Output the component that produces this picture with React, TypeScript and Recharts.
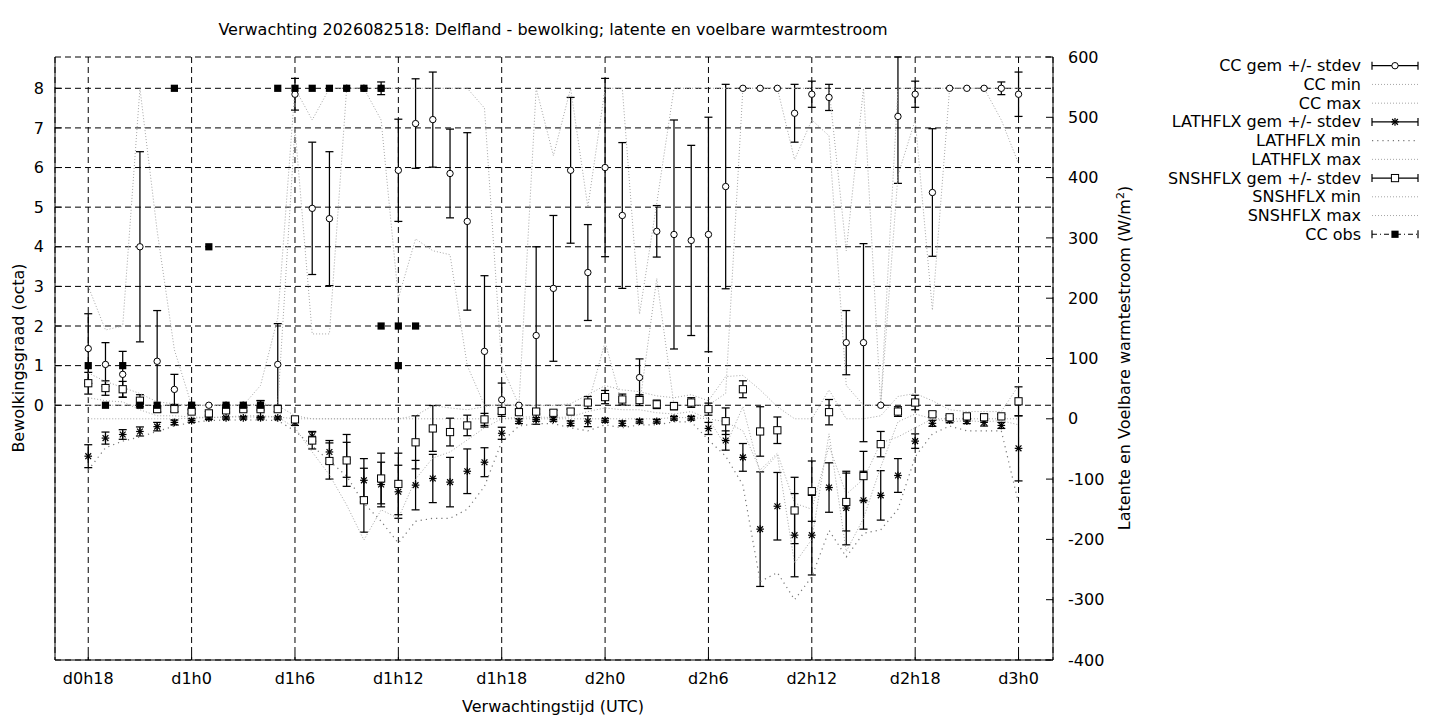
import { CartesianGrid, ComposedChart, ErrorBar, Line, Scatter, XAxis, YAxis } from "recharts";

const FONT = "DejaVu Sans, Verdana, sans-serif";
const DOT = "#a6a6a6";

// forecast hours since d0h0
const hours = [
  18, 19, 20, 21, 22, 23,
  24, 25, 26, 27, 28, 29, 30, 31, 32, 33, 34, 35,
  36, 37, 38, 39, 40, 41, 42, 43, 44, 45, 46, 47,
  48, 49, 50, 51, 52, 53, 54, 55, 56, 57, 58, 59,
  60, 61, 62, 63, 64, 65, 66, 67, 68, 69, 70, 71,
  72,
];

// bewolking (octa)
const ccMean = [
  1.43, 1.03, 0.78, 4.0, 1.11, 0.4,
  0, 0, 0, 0, 0, 1.03, 7.85, 4.97, 4.71, 8, 8, 8,
  5.93, 7.11, 7.21, 5.85, 4.64, 1.36, 0.14, 0, 1.76, 2.95, 5.93, 3.35,
  6.0, 4.79, 0.7, 4.39, 4.31, 4.16, 4.31, 5.52, 8, 8, 8, 7.37,
  7.85, 7.77, 1.58, 1.58, 0, 7.29, 7.85, 5.37, 8, 8, 8, 8,
  7.85,
];
const ccSd = [
  0.88, 0.55, 0.58, 2.4, 1.28, 0.38,
  0, 0, 0, 0, 0.12, 1.03, 0.4, 1.67, 1.69, 0, 0, 0.16,
  1.29, 1.13, 1.2, 1.12, 2.24, 1.91, 0.42, 0, 2.24, 1.84, 1.84, 1.21,
  2.25, 1.84, 0.47, 0.65, 2.89, 2.4, 2.96, 2.58, 0, 0, 0, 0.73,
  0.33, 0.33, 0.81, 2.5, 0, 1.69, 0.33, 1.61, 0, 0, 0, 0.16,
  0.56,
];
const ccMin = [
  0, 0, 0, 0, 0, 0,
  0, 0, 0, 0, 0, 0, 7.0, 1.8, 1.8, 8, 8, 7.2,
  2.7, 4.2, 3.9, 3.8, 1.0, 0, 0, 0, 0, 0, 0, 0,
  1.6, 0, 0, 3.2, 0, 0, 0, 0.3, 8, 8, 8, 6.2,
  7.2, 6.8, 0.5, 0, 0, 5.8, 7.2, 2.4, 8, 8, 8, 7.2,
  6.1,
];
const ccMax = [
  3.0, 1.9, 2.0, 8, 4.4, 1.4,
  0, 0, 0, 0, 0.5, 2.2, 8, 7.2, 8, 8, 8, 8,
  8, 8, 8, 8, 8, 7.5, 1.0, 0, 8, 6.3, 8, 5.0,
  8, 8, 2.3, 5.1, 8, 8, 8, 8, 8, 8, 8, 8,
  8, 8, 3.9, 8, 0, 8, 8, 8, 8, 8, 8, 8,
  8,
];

// latente warmtestroom (W/m2)
const lhMean = [
  -62, -32, -26, -21, -13, -6,
  -3, 1, 1.5, 1.5, 1.5, 1.5, -6, -29, -55, -68, -102, -109,
  -121, -110, -99, -105, -87, -72, -24, -4, -1, -1, -7.5, -4,
  -2.5, -7.5, -4, -4, 1, 1, -16, -36, -64, -183, -145, -193,
  -193, -114, -148, -135, -127, -94, -37, -7.5, -2.5, -4, -6, -11,
  -49,
];
const lhSd = [
  19, 10, 8, 7.5, 7, 4,
  3, 2, 2, 2, 2, 2, 5, 8, 19, 29, 36, 37,
  44, 41, 40, 41, 37, 24, 10, 4, 3, 3, 4, 9,
  3, 4, 3, 3, 3, 3, 10, 16, 23, 95, 56, 69,
  66, 41, 61, 48, 41, 28, 12, 5, 4, 4, 6, 5,
  54,
];
const lhMin = [
  -85, -48, -37, -30, -21, -12,
  -6, -3, -2, -2, -2, -3, -20, -45, -70, -95, -140, -170,
  -206, -170, -165, -165, -150, -112, -38, -12, -8, -8, -15, -20,
  -10, -15, -10, -10, -5, -5, -35, -62, -110, -270, -255, -300,
  -262, -185, -229, -190, -184, -150, -63, -25, -12, -20, -20, -20,
  -140,
];
const lhMax = [
  0, 0, 0, 0, 0, 0,
  1, 2, 3, 3, 3, 3, 0, 0, 0, 0, 0, 0,
  0, 0, 0, 0, 0, 0, 0, 0, 0, 0, 0, 0,
  0, 0, 0, 0, 2, 2, 0, -5, -20, -85, -57, -140,
  -150, -45, -125, -100, -40, -30, -15, 0, 0, 0, 0, 0,
  0,
];

// voelbare warmtestroom (W/m2)
const shMean = [
  59, 51, 49, 30, 16, 16,
  12, 9, 14, 16, 16, 16, -1, -36, -70, -69, -135, -99,
  -108, -39, -16, -22, -11, -1, 13, 11, 12, 10, 12, 27,
  36, 32, 31, 24, 21, 27, 16, -4, 49, -21, -19, -152,
  -120, 11, -138, -95, -42, 12, 27, 7.5, 2.5, 4, 2.5, 4,
  29,
];
const shSd = [
  18, 12, 13, 10, 5, 4,
  3, 3, 3, 3, 14, 4, 3, 14, 30, 43, 53, 42,
  51, 44, 38, 23, 17, 10, 5, 4, 4, 4, 4, 10,
  11, 9, 9, 7, 6, 8, 10, 22, 14, 41, 22, 55,
  50, 21, 48, 41, 21, 8, 12, 4, 3, 3, 5, 3,
  24,
];
const shMin = [
  35, 30, 28, 15, 5, 5,
  3, 2, 3, 5, 5, 3, -15, -55, -93, -143, -201, -151,
  -165, -100, -65, -55, -35, -15, 0, 3, 3, 2, 3, 12,
  18, 15, 15, 10, 8, 12, 0, -45, 20, -90, -60, -240,
  -200, -25, -220, -165, -80, -5, 8, 0, -5, -3, -5, -3,
  -10,
];
const shMax = [
  76, 62, 52, 42, 28, 25,
  22, 22, 22, 22, 25, 22, 5, 0, 0, 0, 0, 0,
  0, 5, 22, 18, 15, 20, 25, 22, 22, 22, 25, 40,
  55, 48, 45, 38, 35, 40, 30, 70, 72, 48, 20, 0,
  0, 48, 0, 0, 5, 37, 42, 30, 15, 12, 12, 12,
  55,
];

// waargenomen bewolking
const obsHours = [18, 19, 20, 21, 22, 23, 24, 25, 26, 27, 28, 29, 30, 31, 32, 33, 34, 35, 35, 36, 36, 37];
const obsValues = [1, 0, 1, 0, 0, 8, 0, 4, 0, 0, 0, 8, 8, 8, 8, 8, 8, 8, 2, 2, 1, 2];

const xTicks = [18, 24, 30, 36, 42, 48, 54, 60, 66, 72];
const xTickLabels = ["d0h18", "d1h0", "d1h6", "d1h12", "d1h18", "d2h0", "d2h6", "d2h12", "d2h18", "d3h0"];
const ccTicks = [0, 1, 2, 3, 4, 5, 6, 7, 8];
const fluxTicks = [-400, -300, -200, -100, 0, 100, 200, 300, 400, 500, 600];

const CC_DOMAIN: [number, number] = [-6.43, 8.79];
const FLUX_DOMAIN: [number, number] = [-400, 600];

// error bars are cut off at the frame, like gnuplot does
const series = (vals: number[], errs?: number[], dom?: [number, number]) =>
  hours.map((h, i) => {
    const sd = errs ? errs[i] : 0;
    const v = vals[i];
    const e = dom ? [Math.min(sd, v - dom[0]), Math.min(sd, dom[1] - v)] : sd;
    return { h, v, e };
  });

const ccData = series(ccMean, ccSd, CC_DOMAIN);
const lhData = series(lhMean, lhSd, FLUX_DOMAIN);
const shData = series(shMean, shSd, FLUX_DOMAIN);
const obsData = obsHours.map((h, i) => ({ h, v: obsValues[i] }));

const OpenCircle = (p: any) =>
  p.cx == null ? null : <circle cx={p.cx} cy={p.cy} r={3.2} fill="#fff" stroke="#000" strokeWidth={1} />;
const OpenSquare = (p: any) =>
  p.cx == null ? null : (
    <rect x={p.cx - 3.6} y={p.cy - 3.6} width={7.2} height={7.2} fill="#fff" stroke="#000" strokeWidth={1} />
  );
const FilledSquare = (p: any) =>
  p.cx == null ? null : <rect x={p.cx - 3.6} y={p.cy - 3.6} width={7.2} height={7.2} fill="#000" />;
const Star = (p: any) => {
  if (p.cx == null) return null;
  const { cx, cy } = p;
  const r = 3.8;
  const d = 2.9;
  return (
    <g stroke="#000" strokeWidth={1.2}>
      <line x1={cx - r} y1={cy} x2={cx + r} y2={cy} />
      <line x1={cx} y1={cy - r} x2={cx} y2={cy + r} />
      <line x1={cx - d} y1={cy - d} x2={cx + d} y2={cy + d} />
      <line x1={cx - d} y1={cy + d} x2={cx + d} y2={cy - d} />
    </g>
  );
};

const legendItems = [
  { label: "CC gem +/- stdev", kind: "circle" },
  { label: "CC min", kind: "dot" },
  { label: "CC max", kind: "dot" },
  { label: "LATHFLX gem +/- stdev", kind: "star" },
  { label: "LATHFLX min", kind: "sparse" },
  { label: "LATHFLX max", kind: "dot" },
  { label: "SNSHFLX gem +/- stdev", kind: "square" },
  { label: "SNSHFLX min", kind: "dot" },
  { label: "SNSHFLX max", kind: "dot" },
  { label: "CC obs", kind: "obs" },
];

function LegendSample({ kind, y }: { kind: string; y: number }) {
  const x0 = 1372;
  const x1 = 1418;
  const xm = 1395;
  if (kind === "dot") return <line x1={x0} y1={y} x2={x1} y2={y} stroke={DOT} strokeDasharray="1 2" />;
  if (kind === "sparse")
    return <line x1={x0} y1={y} x2={x1} y2={y} stroke="#777" strokeWidth={1.2} strokeDasharray="1.2 4" />;
  const marker =
    kind === "circle" ? (
      <OpenCircle cx={xm} cy={y} />
    ) : kind === "star" ? (
      <Star cx={xm} cy={y} />
    ) : kind === "square" ? (
      <OpenSquare cx={xm} cy={y} />
    ) : (
      <FilledSquare cx={xm} cy={y} />
    );
  return (
    <g>
      <line
        x1={x0}
        y1={y}
        x2={x1}
        y2={y}
        stroke="#000"
        strokeWidth={1.2}
        strokeDasharray={kind === "obs" ? "5 3 1 3" : undefined}
      />
      <g stroke="#000" strokeWidth={1.2}>
        <line x1={x0} y1={y - 4} x2={x0} y2={y + 4} />
        <line x1={x1} y1={y - 4} x2={x1} y2={y + 4} />
      </g>
      {marker}
    </g>
  );
}

const tickStyle = { fill: "#000", fontSize: 16, fontFamily: FONT };
const BAR = { stroke: "#000", strokeWidth: 1.25 };

export default function App() {
  return (
    <div style={{ position: "fixed", left: 0, top: 0, width: 1440, height: 720, background: "#fff" }}>
      <ComposedChart width={1440} height={720} margin={{ top: 57, right: 327, bottom: 0, left: 0 }}>
        <XAxis
          xAxisId="b"
          dataKey="h"
          type="number"
          domain={[16.07, 74]}
          allowDataOverflow
          ticks={xTicks}
          interval={0}
          tickFormatter={(v: number) => xTickLabels[xTicks.indexOf(v)]}
          height={60}
          tickSize={-7}
          tickMargin={20}
          tick={tickStyle}
          axisLine={{ stroke: "#000" }}
          tickLine={{ stroke: "#000" }}
        />
        <XAxis
          xAxisId="t"
          orientation="top"
          type="number"
          domain={[16.07, 74]}
          allowDataOverflow
          ticks={xTicks}
          interval={0}
          height={0}
          tick={false}
          tickSize={-7}
          axisLine={{ stroke: "#000" }}
          tickLine={{ stroke: "#000" }}
        />
        <YAxis
          yAxisId="left"
          type="number"
          domain={CC_DOMAIN}
          allowDataOverflow
          ticks={ccTicks}
          interval={0}
          width={55}
          tickSize={-7}
          tickMargin={18}
          tick={tickStyle}
          axisLine={{ stroke: "#000" }}
          tickLine={{ stroke: "#000" }}
        />
        <YAxis
          yAxisId="right"
          orientation="right"
          type="number"
          domain={FLUX_DOMAIN}
          allowDataOverflow
          ticks={fluxTicks}
          interval={0}
          width={60}
          tickSize={-7}
          tickMargin={22}
          tick={tickStyle}
          axisLine={{ stroke: "#000" }}
          tickLine={{ stroke: "#000" }}
        />
        <CartesianGrid xAxisId="b" yAxisId="left" stroke="#000" strokeDasharray="6 4" />

        {/* CC */}
        <Scatter xAxisId="b" yAxisId="left" data={ccData} dataKey="v" shape={OpenCircle} isAnimationActive={false}>
          <ErrorBar dataKey="e" direction="y" width={4} {...BAR} isAnimationActive={false} />
        </Scatter>
        <Line xAxisId="b" yAxisId="left" data={series(ccMin)} dataKey="v" type="linear" stroke={DOT} strokeWidth={1} strokeDasharray="1 2" dot={false} activeDot={false} isAnimationActive={false} />
        <Line xAxisId="b" yAxisId="left" data={series(ccMax)} dataKey="v" type="linear" stroke={DOT} strokeWidth={1} strokeDasharray="1 2" dot={false} activeDot={false} isAnimationActive={false} />

        {/* LATHFLX */}
        <Scatter xAxisId="b" yAxisId="right" data={lhData} dataKey="v" shape={Star} isAnimationActive={false}>
          <ErrorBar dataKey="e" direction="y" width={4} {...BAR} isAnimationActive={false} />
        </Scatter>
        <Line xAxisId="b" yAxisId="right" data={series(lhMin)} dataKey="v" type="linear" stroke="#777" strokeWidth={1.2} strokeDasharray="1.2 4" dot={false} activeDot={false} isAnimationActive={false} />
        <Line xAxisId="b" yAxisId="right" data={series(lhMax)} dataKey="v" type="linear" stroke={DOT} strokeWidth={1} strokeDasharray="1 2" dot={false} activeDot={false} isAnimationActive={false} />

        {/* SNSHFLX */}
        <Scatter xAxisId="b" yAxisId="right" data={shData} dataKey="v" shape={OpenSquare} isAnimationActive={false}>
          <ErrorBar dataKey="e" direction="y" width={4} {...BAR} isAnimationActive={false} />
        </Scatter>
        <Line xAxisId="b" yAxisId="right" data={series(shMin)} dataKey="v" type="linear" stroke={DOT} strokeWidth={1} strokeDasharray="1 2" dot={false} activeDot={false} isAnimationActive={false} />
        <Line xAxisId="b" yAxisId="right" data={series(shMax)} dataKey="v" type="linear" stroke={DOT} strokeWidth={1} strokeDasharray="1 2" dot={false} activeDot={false} isAnimationActive={false} />

        {/* observaties */}
        <Scatter xAxisId="b" yAxisId="left" data={obsData} dataKey="v" shape={FilledSquare} isAnimationActive={false} />
      </ComposedChart>

      <svg
        width={1440}
        height={720}
        style={{ position: "absolute", left: 0, top: 0, pointerEvents: "none" }}
        fontFamily={FONT}
        fontSize={16}
      >
        <text x={553} y={35} textAnchor="middle" fill="#000">
          Verwachting 2026082518: Delfland - bewolking; latente en voelbare warmtestroom
        </text>
        <text x={553} y={712} textAnchor="middle" fill="#000">
          Verwachtingstijd (UTC)
        </text>
        <text x={24} y={358} textAnchor="middle" fill="#000" transform="rotate(-90 24 358)">
          Bewolkingsgraad (octa)
        </text>
        <text x={1130} y={358} textAnchor="middle" fill="#000" transform="rotate(-90 1130 358)">
          Latente en Voelbare warmtestroom (W/m
          <tspan dy={-6} fontSize={11}>
            2
          </tspan>
          <tspan dy={6}>)</tspan>
        </text>
        {legendItems.map((it, i) => {
          const y = 65.7 + i * 18.73;
          return (
            <g key={it.label}>
              <text x={1361} y={y} textAnchor="end" dominantBaseline="central" fill="#000">
                {it.label}
              </text>
              <LegendSample kind={it.kind} y={y} />
            </g>
          );
        })}
      </svg>
    </div>
  );
}
